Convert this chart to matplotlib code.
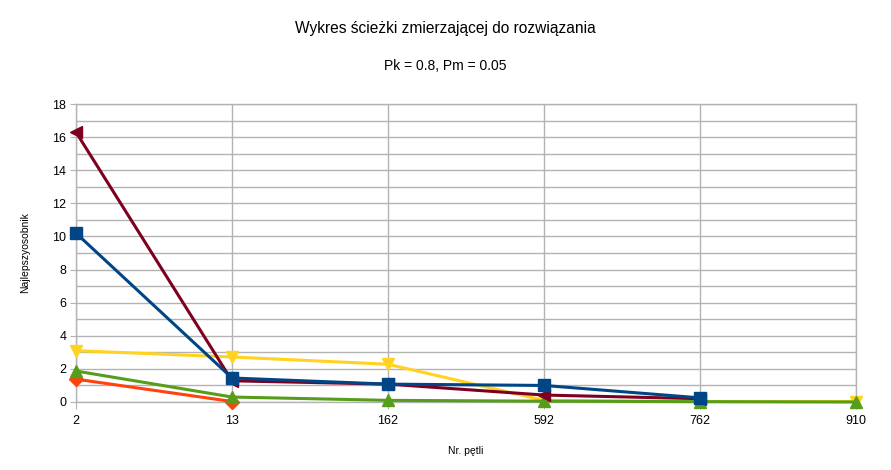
import numpy as np
from matplotlib import pyplot as plt

plt.rcParams['font.family'] = ['Liberation Sans', 'DejaVu Sans']

loops = ['2', '13', '162', '592', '762', '910']
nan = np.nan
s_blue = [10.2, 1.45, 1.08, 1.0, 0.25, nan]
s_orange = [1.38, 0.03, nan, nan, nan, nan]
s_yellow = [3.1, 2.72, 2.28, 0.1, 0.03, 0.03]
s_green = [1.87, 0.3, 0.1, 0.05, 0.02, 0.0]
s_maroon = [16.3, 1.28, 1.08, 0.42, 0.2, nan]

series = [
    (s_orange, '#ff420e', 'D', 7),
    (s_yellow, '#ffd320', 'v', 9),
    (s_green, '#579d1c', '^', 9),
    (s_maroon, '#7e0021', '<', 9),
    (s_blue, '#004586', 's', 8),
]


def draw():
    fig = plt.figure(figsize=(8.91, 4.70), dpi=100)
    ax = fig.add_axes([76 / 891, 68 / 470, 780 / 891, 298 / 470])
    x = np.arange(len(loops))
    for z, (vals, col, mk, ms) in enumerate(series):
        ax.plot(x, vals, color=col, lw=2.2, marker=mk, markersize=ms,
                zorder=3 + z, clip_on=False)

    ax.set_xlim(0, len(loops) - 1)
    ax.set_ylim(0, 18)
    ax.set_xticks(x)
    ax.set_xticklabels(loops, fontsize=9)
    ax.set_yticks(np.arange(0, 19, 2))
    ax.set_yticks(np.arange(0, 19, 1), minor=True)
    ax.tick_params(axis='y', which='major', labelsize=9, length=4, color='#b3b3b3', pad=3)
    ax.tick_params(axis='y', which='minor', length=0)
    ax.tick_params(axis='x', length=5, color='#b3b3b3', pad=4)
    ax.grid(True, which='both', axis='y', color='#b3b3b3', lw=1)
    ax.grid(True, which='major', axis='x', color='#b3b3b3', lw=1)
    ax.set_axisbelow(True)
    for sp in ax.spines.values():
        sp.set_color('#b3b3b3')
        sp.set_linewidth(1)

    ax.set_xlabel('Nr. pętli', fontsize=7.5, labelpad=14)
    ax.set_ylabel('Najlepszyosobnik', fontsize=7.5, labelpad=16)
    fig.text(0.5, 1 - 28 / 470, 'Wykres ścieżki zmierzającej do rozwiązania',
             ha='center', va='center', fontsize=11.2)
    fig.text(0.5, 1 - 66 / 470, 'Pk = 0.8, Pm = 0.05',
             ha='center', va='center', fontsize=10)
    fig.savefig('out.png', dpi=100)


if __name__ == "__main__":
    draw()
